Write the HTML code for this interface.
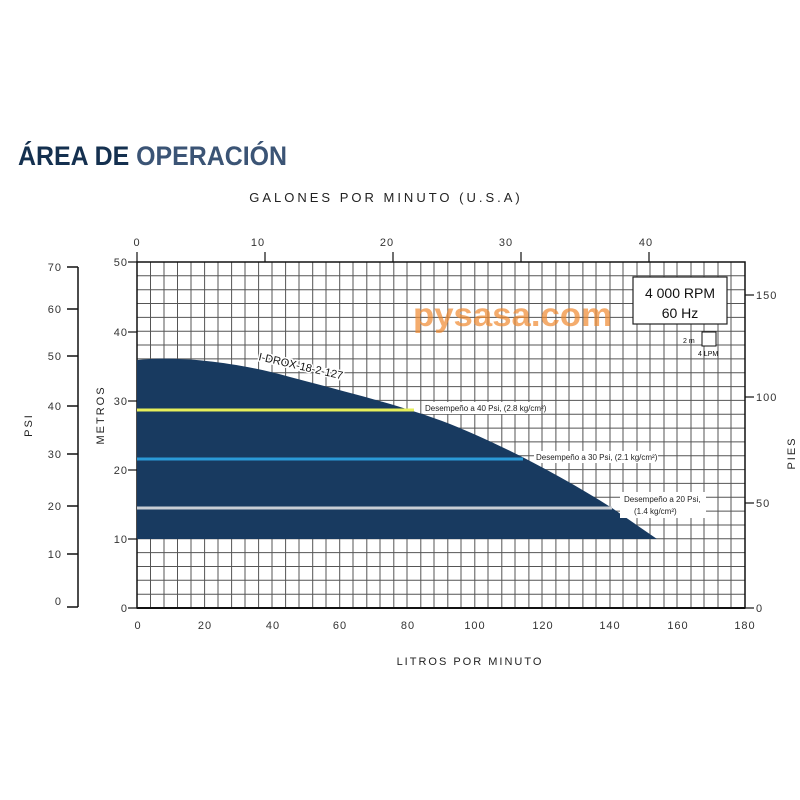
<!DOCTYPE html>
<html><head><meta charset="utf-8"><style>
body{margin:0;background:#fff;}
svg{display:block;font-family:"Liberation Sans",sans-serif;}
</style></head><body>
<svg width="800" height="800" viewBox="0 0 800 800">
<rect width="800" height="800" fill="#fff"/>
<text x="18" y="165" font-size="27" font-weight="bold" textLength="269" lengthAdjust="spacingAndGlyphs"><tspan fill="#14304f">ÁREA DE </tspan><tspan fill="#3b5475">OPERACIÓN</tspan></text>
<text x="386" y="202" font-size="13" text-anchor="middle" letter-spacing="3" fill="#222">GALONES POR MINUTO (U.S.A)</text>
<g id="grid" stroke="#555" stroke-width="1">
<path d="M150.5 262V608M164 262V608M177.5 262V608M191 262V608M204.6 262V608M218 262V608M231.6 262V608M245 262V608M258.6 262V608M272 262V608M285.6 262V608M299 262V608M312.7 262V608M326 262V608M339.7 262V608M353 262V608M366.8 262V608M380 262V608M393.8 262V608M407 262V608M420.8 262V608M434 262V608M447.8 262V608M461 262V608M474.8 262V608M488 262V608M501.8 262V608M515 262V608M528.9 262V608M542 262V608M555.9 262V608M569 262V608M582.9 262V608M596 262V608M610 262V608M623 262V608M637 262V608M650 262V608M664 262V608M677 262V608M691 262V608M704 262V608M718 262V608M731 262V608"/>
<path d="M137 275.8H745M137 289.7H745M137 303.5H745M137 317.4H745M137 331.2H745M137 345H745M137 358.9H745M137 372.7H745M137 386.6H745M137 400.4H745M137 414.2H745M137 428.1H745M137 441.9H745M137 455.8H745M137 469.6H745M137 483.4H745M137 497.3H745M137 511.1H745M137 525H745M137 538.8H745M137 552.6H745M137 566.5H745M137 580.3H745M137 594.2H745"/>
</g>
<rect x="137" y="262" width="608" height="346" fill="none" stroke="#111" stroke-width="1.5"/>
<line x1="137" y1="608" x2="745" y2="608" stroke="#111" stroke-width="2"/>
<path d="M137,539 L137,360 C170,356 230,360 290,377 C350,393 400,405 450,424 C500,444 560,475 612,508 L657,539 Z" fill="#183a60"/>
<line x1="137" y1="410" x2="414" y2="410" stroke="#e6ef5a" stroke-width="3"/>
<line x1="137" y1="459" x2="523" y2="459" stroke="#2a9ad8" stroke-width="3"/>
<line x1="137" y1="508" x2="612" y2="508" stroke="#c8cdd4" stroke-width="3"/>
<g font-size="8" fill="#222">
<rect x="423" y="402" width="118" height="12" fill="#fff"/>
<text x="425" y="411">Desempeño a 40 Psi, (2.8 kg/cm²)</text>
<rect x="534" y="451" width="124" height="12" fill="#fff"/>
<text x="536" y="460">Desempeño a 30 Psi, (2.1 kg/cm²)</text>
<rect x="620" y="492" width="86" height="26" fill="#fff"/>
<text x="624" y="502">Desempeño a 20 Psi,</text>
<text x="634" y="514">(1.4 kg/cm²)</text>
</g>
<text x="258" y="360" font-size="11" fill="#111" transform="rotate(13 258 360)" stroke="#fff" stroke-width="3" paint-order="stroke">I-DROX-18-2-127</text>
<text x="413" y="326" font-size="33" font-weight="bold" fill="#f08a30" opacity="0.7" textLength="199" lengthAdjust="spacingAndGlyphs">pysasa.com</text>
<rect x="633" y="277" width="94" height="47" fill="#fff" stroke="#222" stroke-width="1.2"/>
<text x="680" y="298" font-size="14" text-anchor="middle" fill="#111">4 000 RPM</text>
<text x="680" y="318" font-size="14" text-anchor="middle" fill="#111">60 Hz</text>
<rect x="702" y="332" width="14" height="14" fill="#fff" stroke="#111"/>
<text x="683" y="343" font-size="7" fill="#111">2 m</text>
<text x="698" y="356" font-size="7" fill="#111">4 LPM</text>
<g stroke="#111" stroke-width="1.2">
<line x1="137" y1="262" x2="137" y2="252"/><line x1="265" y1="262" x2="265" y2="252"/><line x1="393" y1="262" x2="393" y2="252"/><line x1="521" y1="262" x2="521" y2="252"/><line x1="649" y1="262" x2="649" y2="252"/>
</g>
<g font-size="11" fill="#333" text-anchor="middle" letter-spacing="1">
<text x="137" y="246">0</text><text x="258" y="246">10</text><text x="387" y="246">20</text><text x="506" y="246">30</text><text x="646" y="246">40</text>
</g>
<g stroke="#111" stroke-width="1.2">
<line x1="128" y1="262" x2="137" y2="262"/><line x1="128" y1="332" x2="137" y2="332"/><line x1="128" y1="401" x2="137" y2="401"/><line x1="128" y1="470" x2="137" y2="470"/><line x1="128" y1="539" x2="137" y2="539"/><line x1="128" y1="608" x2="137" y2="608"/>
</g>
<g font-size="11" fill="#333" text-anchor="end" letter-spacing="1">
<text x="128" y="266">50</text><text x="128" y="336">40</text><text x="128" y="405">30</text><text x="128" y="474">20</text><text x="128" y="543">10</text><text x="128" y="612">0</text>
</g>
<text x="104" y="415" font-size="11" fill="#222" letter-spacing="2" text-anchor="middle" transform="rotate(-90 104 415)">METROS</text>
<line x1="78" y1="267" x2="78" y2="607" stroke="#111" stroke-width="1.5"/>
<g stroke="#111" stroke-width="1.5">
<line x1="67" y1="267" x2="78" y2="267"/><line x1="67" y1="309" x2="78" y2="309"/><line x1="67" y1="356" x2="78" y2="356"/><line x1="67" y1="406" x2="78" y2="406"/><line x1="67" y1="454" x2="78" y2="454"/><line x1="67" y1="506" x2="78" y2="506"/><line x1="67" y1="554" x2="78" y2="554"/><line x1="67" y1="607" x2="78" y2="607"/>
</g>
<g font-size="11" fill="#333" text-anchor="end" letter-spacing="1">
<text x="62" y="271">70</text><text x="62" y="313">60</text><text x="62" y="360">50</text><text x="62" y="410">40</text><text x="62" y="458">30</text><text x="62" y="510">20</text><text x="62" y="558">10</text><text x="62" y="605">0</text>
</g>
<text x="32" y="425" font-size="11" fill="#222" letter-spacing="2" text-anchor="middle" transform="rotate(-90 32 425)">PSI</text>
<g stroke="#111" stroke-width="1.2">
<line x1="745" y1="295" x2="754" y2="295"/><line x1="745" y1="397" x2="754" y2="397"/><line x1="745" y1="503" x2="754" y2="503"/><line x1="745" y1="608" x2="754" y2="608"/>
</g>
<g font-size="11" fill="#333" letter-spacing="1">
<text x="756" y="299">150</text><text x="756" y="401">100</text><text x="756" y="507">50</text><text x="756" y="612">0</text>
</g>
<text x="795" y="453" font-size="11" fill="#222" letter-spacing="2" text-anchor="middle" transform="rotate(-90 795 453)">PIES</text>
<g font-size="11" fill="#333" text-anchor="middle" letter-spacing="1">
<text x="138" y="629">0</text><text x="205" y="629">20</text><text x="273" y="629">40</text><text x="340" y="629">60</text><text x="408" y="629">80</text><text x="475" y="629">100</text><text x="543" y="629">120</text><text x="610" y="629">140</text><text x="678" y="629">160</text><text x="745" y="629">180</text>
</g>
<text x="470" y="665" font-size="11" fill="#222" letter-spacing="2" text-anchor="middle">LITROS POR MINUTO</text>
</svg>
</body></html>
